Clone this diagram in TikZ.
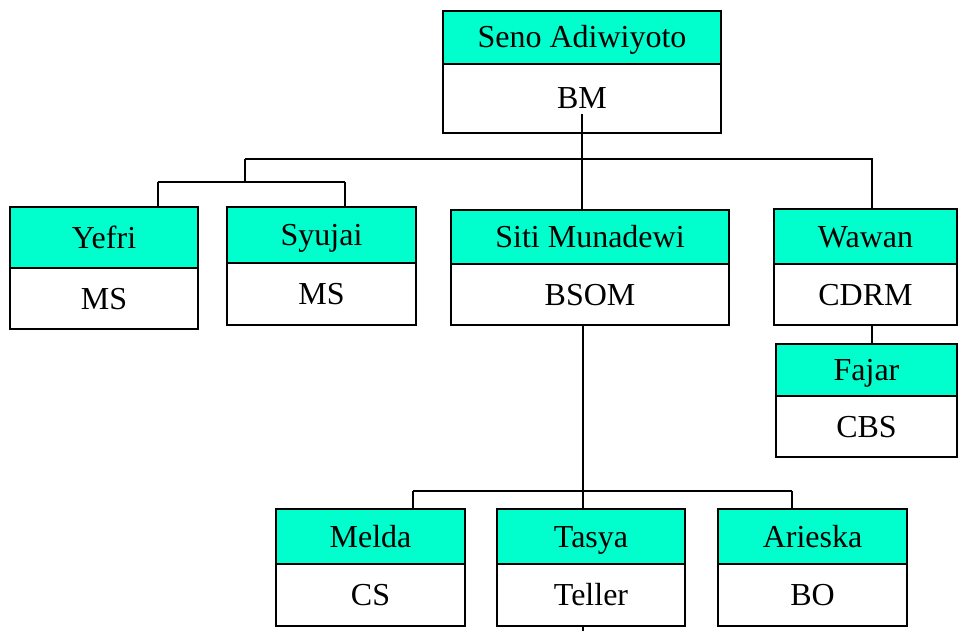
\documentclass[tikz,border=0pt]{standalone}
\usepackage{fontspec}
\setmainfont{Liberation Serif}
\usetikzlibrary{calc}
\definecolor{headcyan}{RGB}{0,255,204}
\tikzset{
  part/.style={draw=black, line width=1.3pt, anchor=north west, inner sep=0pt, outer sep=0pt,
    font=\fontsize{32}{37}\selectfont, text height=21pt, text depth=0pt},
  head/.style={part, fill=headcyan},
  role/.style={part, fill=white},
  conn/.style={line width=1.3pt, black}
}
% \orgbox{name}{x1}{y1}{x2}{ydiv}{y2}{top text}{bottom text}
\newcommand{\orgbox}[8]{%
  \node[head, minimum width={(#4-#2)*1pt}, minimum height={(#5-#3)*1pt}] (#1-t) at (#2,#3) {#7};
  \node[role, minimum width={(#4-#2)*1pt}, minimum height={(#6-#5)*1pt}] (#1-b) at (#2,#5) {#8};
}
\begin{document}
\begin{tikzpicture}[x=1pt,y=-1pt]
\useasboundingbox (0,0) rectangle (958,631);

\orgbox{seno}{443}{11}{721}{64}{133}{Seno Adiwiyoto}{BM}
\orgbox{yefri}{10}{207}{198}{268}{329}{Yefri}{MS}
\orgbox{syujai}{227}{207}{416}{263}{325}{Syujai}{MS}
\orgbox{siti}{451}{210}{729}{264}{325}{Siti Munadewi}{BSOM}
\orgbox{wawan}{774}{209}{957}{264}{325}{Wawan}{CDRM}
\orgbox{fajar}{776}{344}{957}{396}{457}{Fajar}{CBS}
\orgbox{melda}{276}{509}{465}{564}{626}{Melda}{CS}
\orgbox{tasya}{497}{509}{685}{564}{626}{Tasya}{Teller}
\orgbox{arieska}{718}{509}{907}{564}{626}{Arieska}{BO}

% connector coordinates
\coordinate (bmstart) at (582,114);
\coordinate (busA) at (582,159);
\coordinate (busAleft) at (245,159);
\coordinate (busAright) at (872,159);
\coordinate (busB) at (245,182);
\coordinate (busBleft) at (158,182);
\coordinate (busBright) at (345,182);
\coordinate (busC) at (583,491);
\coordinate (busCleft) at (413,491);
\coordinate (busCright) at (792,491);
\coordinate (tail) at (583,631);

\draw[conn] (bmstart) -- (siti-t.north -| bmstart);
\draw[conn] (busAleft) -- (busAright) -- (busAright |- wawan-t.north);
\draw[conn] (busAleft) -- (busB);
\draw[conn] (busBleft) -- (busBright);
\draw[conn] (busBleft) -- (busBleft |- yefri-t.north);
\draw[conn] (busBright) -- (busBright |- syujai-t.north);
\draw[conn] (wawan-b.south -| busAright) -- (fajar-t.north -| busAright);
\draw[conn] (siti-b.south -| busC) -- (tasya-t.north -| busC);
\draw[conn] (busCleft) -- (busCright);
\draw[conn] (busCleft) -- (busCleft |- melda-t.north);
\draw[conn] (busCright) -- (busCright |- arieska-t.north);
\draw[conn] (tasya-b.south -| tail) -- (tail);
\end{tikzpicture}
\end{document}
